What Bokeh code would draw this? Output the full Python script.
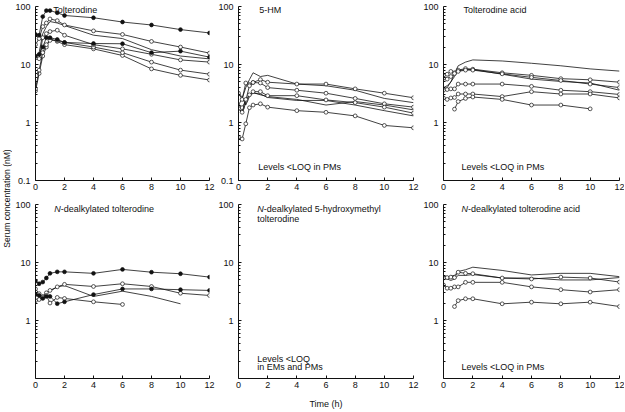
import math
from bokeh.plotting import figure
from bokeh.layouts import row, column
from bokeh.models import FixedTicker, Label, CustomJSTickFormatter, Range1d
from bokeh.embed import file_html
from bokeh.resources import INLINE

# ---------------- data ----------------
time_h = [0, 0.25, 0.5, 0.75, 1, 1.5, 2, 4, 6, 8, 10, 12]
x_ticks = [0, 2, 4, 6, 8, 10, 12]
y_ticks_full = [0.1, 1, 10, 100]
y_ticks_short = [1, 10, 100]
y_minor = [0.2, 0.3, 0.4, 0.5, 0.6, 0.7, 0.8, 0.9,
           2, 3, 4, 5, 6, 7, 8, 9,
           20, 30, 40, 50, 60, 70, 80, 90]

# Tolterodine (filled = PM, open = EM, line = no marker)
tol_pm_a = [33, 32, 67, 85, 85, 78, 70, 64, 54, 48, 40, 35]
tol_pm_b = [14, 15, 20, 29, 29, 27, 24, 23, 22.8, 16, 17, 13.4]
tol_em_a = [22, 28, 45, 52, 61, 57, 48, 38, 33, 25, 20, 15.7]
tol_em_b = [13, 12.6, 29, 34, 37, 39, 32, 22, 18.6, 15, 12, 11]
tol_em_c = [3.8, 8, 16, 22, 26, 26, 24, 20, 16, 11, 8, 6.8]
tol_em_d = [3.5, 7, 14, 20, 28, 25, 22, 18.6, 14.3, 8.4, 6.5, 5.4]
tol_line_a = [13, 16, 34, 45, 55, 52, 47, 32, 28, 18, 14, 12.5]

# 5-HM
hm_em_a = [3.2, 2.5, 4.8, 4.5, 4.9, 5.5, 4.95, 4.6, 4.6, 3.8, 3.2, 2.67]
hm_line_a = [2.0, 2.6, 4.0, 5.5, 7.2, 6.2, 6.5, 4.6, 4.3, 3.6, 2.6, 2.2]
hm_em_b = [1.9, 1.8, 2.4, 4.3, 4.9, 4.8, 4.0, 3.6, 3.2, 2.6, 2.1, 1.84]
hm_em_c = [1.75, 1.5, 2.5, 3.0, 3.4, 3.4, 2.9, 2.9, 2.45, 2.2, 1.84, 1.45]
hm_line_b = [3.0, 2.8, 2.0, 2.8, 3.2, 3.1, 2.7, 2.4, 2.4, 2.0, 1.6, 1.3]
hm_em_d = [0.56, 0.52, 0.95, 1.8, 2.0, 2.1, 1.84, 1.6, 1.5, 1.3, 0.89, 0.81]
hm_line_c = [1.8, 1.4, 2.2, 3.0, 3.3, 3.0, 2.8, 2.5, 2.0, 2.3, 2.0, 1.65]

# Tolterodine acid
ac_line_a = [3.5, 4, 5, 7, 9.5, 11, 12, 11.5, 10.5, 9.5, 8.4, 7.7]
ac_em_a = [6.5, 6.8, 7.6, 7.2, 8, 8.5, 8.3, 7.2, 6.5, 5.7, 5.45, 4.95]
ac_line_b = [4, 4.3, 5, 6.2, 7.8, 8.2, 8.2, 6.8, 5.6, 5.1, 4.8, 3.6]
ac_em_b = [5.8, 5.6, 6.2, 7.0, 7.6, 8.0, 8.0, 6.9, 6.0, 5.3, 4.6, 4.0]
ac_em_c = [3.6, 3.7, 3.8, 3.8, 4.6, 4.6, 4.6, 4.6, 4.2, 3.6, 3.4, 3.04]
ac_em_d = [2.65, 2.5, 2.65, 2.7, 3.1, 3.1, 3.1, 2.8, 3.4, 3.1, 3.1, 2.65]
ac_em_e = [None, None, None, 1.7, 2.3, 2.6, 2.75, 2.5, 2.0, 2.0, 1.72, None]

# N-dealkylated tolterodine
nd_pm_a = [4.8, 4.3, 4.6, 5.4, 6.5, 6.9, 6.9, 6.5, 7.6, 6.8, 6.4, 5.6]
nd_pm_b = [2.8, 2.7, 2.4, 2.6, 2.6, 1.95, 2.1, 2.8, 3.5, 3.5, 3.4, 3.3]
nd_em_a = [3.5, 2.9, 2.6, 3.0, 3.3, 3.8, 4.2, 3.86, 4.3, 3.86, 2.95, 2.7]
nd_em_b = [2.2, 2.3, 2.5, 2.7, 2.0, 2.5, 2.4, 2.1, 1.89, None, None, None]
nd_line_a = [3.0, 2.6, 2.4, 3.0, 3.2, 3.8, 4.0, 2.6, 3.2, 2.6, 1.94, None]

# N-dealkylated tolterodine acid
nda_line_a = [6.0, 5.5, 5.8, 6.0, 7.0, 7.5, 8.3, 7.3, 6.1, 6.5, 6.5, 5.7]
nda_em_a = [5.4, 5.5, 5.6, 5.5, 6.8, 6.5, 6.4, 5.4, 5.2, 5.6, 5.4, 4.6]
nda_line_b = [5.5, 5.2, 4.9, 5.2, 6.0, 6.0, 6.2, 5.4, 5.4, 5.0, 5.0, 5.5]
nda_em_b = [4.1, 3.6, 3.6, 3.8, 3.8, 4.55, 4.55, 4.55, 3.8, 3.4, 3.1, 3.4]
nda_em_c = [None, None, None, 1.74, 2.2, 2.37, 2.37, 1.94, 2.07, 1.94, 2.07, 1.74]

FONT = "Liberation Sans"
INK = "#111111"
FS = "9px"


def clean(vals):
    return [float("nan") if v is None else v for v in vals]


def panel(bl, br, bt, bb, frame_w, frame_h, yticks):
    p = figure(width=bl + frame_w + br, height=bt + frame_h + bb,
               x_range=Range1d(0, 12), y_range=Range1d(0.1, 100),
               y_axis_type="log", output_backend="svg", toolbar_location=None,
               min_border_left=bl, min_border_right=br,
               min_border_top=bt, min_border_bottom=bb)
    p.outline_line_color = None
    p.xgrid.visible = False
    p.ygrid.visible = False
    p.xaxis.ticker = FixedTicker(ticks=x_ticks)
    p.yaxis.ticker = FixedTicker(ticks=yticks, minor_ticks=y_minor)
    p.yaxis.formatter = CustomJSTickFormatter(
        code="return tick < 1 ? tick.toFixed(1) : tick.toFixed(0);")
    for ax in (p.xaxis[0], p.yaxis[0]):
        ax.axis_line_color = INK
        ax.axis_line_width = 1
        ax.major_tick_line_color = INK
        ax.minor_tick_line_color = INK
        ax.major_tick_in = 3
        ax.major_tick_out = 0
        ax.minor_tick_in = 2
        ax.minor_tick_out = 0
        ax.major_label_text_font = FONT
        ax.major_label_text_font_size = FS
        ax.major_label_text_color = INK
    p.xaxis[0].major_label_standoff = 3
    p.yaxis[0].major_label_standoff = 5
    return p


def draw(p, vals, kind):
    ys = clean(vals)
    p.line(time_h, ys, line_color=INK, line_width=0.8)
    if kind == "filled":
        p.scatter(time_h, ys, marker="circle", size=3.8, fill_color=INK,
                  line_color=INK, line_width=0.7)
    elif kind == "open":
        p.scatter(time_h, ys, marker="circle", size=3.8, fill_color="white",
                  line_color=INK, line_width=0.7)


def note(p, x, y, text, italic=False, x_offset=0, y_offset=0):
    p.add_layout(Label(x=x, y=y, text=text, text_font=FONT, text_font_size=FS,
                       text_color=INK, text_baseline="middle", text_align="left",
                       x_offset=x_offset, y_offset=y_offset,
                       text_font_style="italic" if italic else "normal"))


FW, FH = 176, 174
N_W = 6.5  # width of italic N
TOP_B, MID_B, ROW2_TOP, BOT_B = 6, 16, 8, 33
LEFT_B = [21, 22, 24]
RIGHT_B = 6
TITLE_DY = -3

# top row
p1 = panel(LEFT_B[0], RIGHT_B, TOP_B, MID_B, FW, FH, y_ticks_full)
for vals, kind in [(tol_line_a, "line"), (tol_em_d, "open"), (tol_em_c, "open"),
                   (tol_em_b, "open"), (tol_em_a, "open"), (tol_pm_b, "filled"),
                   (tol_pm_a, "filled")]:
    draw(p1, vals, kind)
note(p1, 1.23, 100, "Tolterodine", y_offset=TITLE_DY)

p2 = panel(LEFT_B[1], RIGHT_B, TOP_B, MID_B, FW, FH, y_ticks_full)
for vals, kind in [(hm_line_a, "line"), (hm_line_b, "line"), (hm_line_c, "line"),
                   (hm_em_a, "open"), (hm_em_b, "open"), (hm_em_c, "open"),
                   (hm_em_d, "open")]:
    draw(p2, vals, kind)
note(p2, 1.42, 100, "5-HM", y_offset=TITLE_DY)
note(p2, 1.36, 0.174, "Levels <LOQ in PMs")

p3 = panel(LEFT_B[2], RIGHT_B - 1, TOP_B, MID_B, FW, FH, y_ticks_short)
for vals, kind in [(ac_line_a, "line"), (ac_line_b, "line"), (ac_em_a, "open"),
                   (ac_em_b, "open"), (ac_em_c, "open"), (ac_em_d, "open"),
                   (ac_em_e, "open")]:
    draw(p3, vals, kind)
note(p3, 1.36, 100, "Tolterodine acid", y_offset=TITLE_DY)
note(p3, 1.23, 0.174, "Levels <LOQ in PMs")

# bottom row
p4 = panel(LEFT_B[0], RIGHT_B, ROW2_TOP, BOT_B, FW, FH, y_ticks_short)
for vals, kind in [(nd_line_a, "line"), (nd_em_a, "open"), (nd_em_b, "open"),
                   (nd_pm_b, "filled"), (nd_pm_a, "filled")]:
    draw(p4, vals, kind)
note(p4, 1.3, 100, "N", italic=True, y_offset=-4)
note(p4, 1.3, 100, "-dealkylated tolterodine", x_offset=N_W, y_offset=-4)

p5 = panel(LEFT_B[1], RIGHT_B, ROW2_TOP, BOT_B, FW, FH, y_ticks_short)
p5.xaxis.axis_label = "Time (h)"
p5.xaxis.axis_label_text_font = FONT
p5.xaxis.axis_label_text_font_size = FS
p5.xaxis.axis_label_text_font_style = "normal"
p5.xaxis.axis_label_text_color = INK
p5.xaxis.axis_label_standoff = 8
note(p5, 1.29, 100, "N", italic=True, y_offset=-4)
note(p5, 1.29, 100, "-dealkylated  5-hydroxymethyl", x_offset=N_W, y_offset=-4)
note(p5, 1.29, 100, "tolterodine", y_offset=-14)
note(p5, 1.29, 0.221, "Levels <LOQ")
note(p5, 1.29, 0.161, "in EMs and PMs")
# invisible anchor so the empty panel keeps its ranges
p5.line([0, 12], [1, 1], line_alpha=0)

p6 = panel(LEFT_B[2], RIGHT_B - 1, ROW2_TOP, BOT_B, FW, FH, y_ticks_short)
for vals, kind in [(nda_line_a, "line"), (nda_line_b, "line"), (nda_em_a, "open"),
                   (nda_em_b, "open"), (nda_em_c, "open")]:
    draw(p6, vals, kind)
note(p6, 1.23, 100, "N", italic=True, y_offset=-4)
note(p6, 1.23, 100, "-dealkylated tolterodine acid", x_offset=N_W, y_offset=-4)
note(p6, 1.23, 0.161, "Levels <LOQ in PMs")

# y-axis title strip
total_h = p1.height + p4.height
ylab = figure(width=12, height=total_h, x_range=Range1d(0, 1), y_range=Range1d(0, 1),
              output_backend="svg", toolbar_location=None,
              min_border_left=0, min_border_right=0, min_border_top=0, min_border_bottom=0)
ylab.axis.visible = False
ylab.grid.visible = False
ylab.outline_line_color = None
ylab.add_layout(Label(x=0.5, y=(total_h - 198) / total_h, text="Serum concentration (nM)",
                      angle=math.pi / 2, text_align="center", text_baseline="middle",
                      text_font=FONT, text_font_size="8.5px", text_color=INK))

layout = row(ylab, column(row(p1, p2, p3), row(p4, p5, p6)))

with open("out.html", "w") as f:
    f.write(file_html(layout, INLINE))
